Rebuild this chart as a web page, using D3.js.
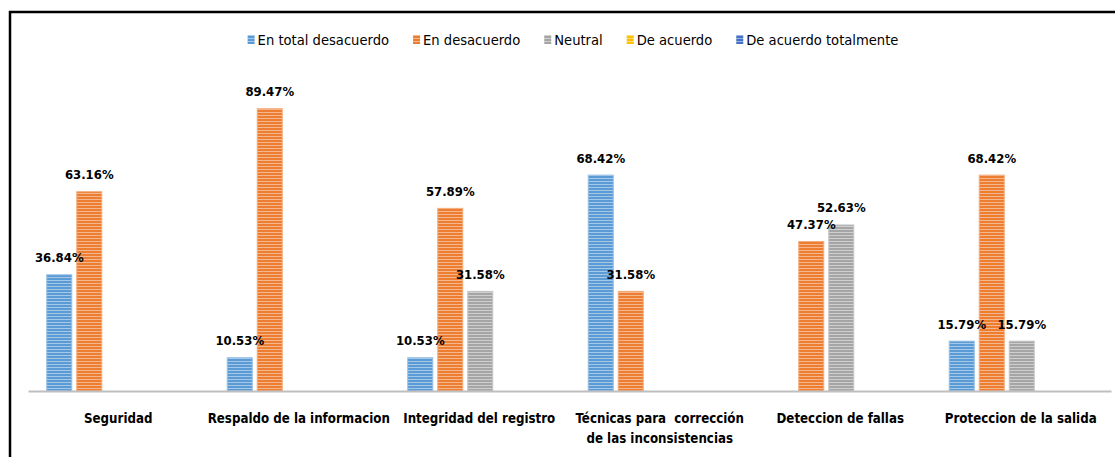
<!DOCTYPE html>
<html><head><meta charset="utf-8">
<script src="https://cdn.jsdelivr.net/npm/d3@7"></script>
<style>
body{margin:0;background:#fff;}
svg{display:block;}
</style></head>
<body>
<svg id="chart" width="1115" height="457"></svg>
<script>
const categories = ["Seguridad", "Respaldo de la informacion", "Integridad del registro", "Técnicas para  corrección\nde las inconsistencias", "Deteccion de fallas", "Proteccion de la salida"];
const seriesNames = ["En total desacuerdo", "En desacuerdo", "Neutral", "De acuerdo", "De acuerdo totalmente"];
const enTotalDesacuerdo = [36.84, 10.53, 10.53, 68.42, 0, 15.79];
const enDesacuerdo = [63.16, 89.47, 57.89, 31.58, 47.37, 68.42];
const neutral = [0, 0, 31.58, 0, 52.63, 15.79];
const deAcuerdo = [0, 0, 0, 0, 0, 0];
const deAcuerdoTotalmente = [0, 0, 0, 0, 0, 0];
const seriesValues = [enTotalDesacuerdo, enDesacuerdo, neutral, deAcuerdo, deAcuerdoTotalmente];
const colors = ["#5B9BD5", "#ED7D31", "#A5A5A5", "#FFC000", "#4472C4"];

const FONT = "'DejaVu Sans Condensed','Liberation Sans Narrow','Arial Narrow',sans-serif";
const svg = d3.select("#chart");
const defs = svg.append("defs");
colors.forEach((c, i) => {
  const p = defs.append("pattern").attr("id", "pat" + i).attr("patternUnits", "userSpaceOnUse")
    .attr("width", 4).attr("height", 3);
  p.append("rect").attr("width", 4).attr("height", 3).attr("fill", c);
  p.append("rect").attr("y", 1).attr("width", 4).attr("height", 1).attr("fill", d3.interpolateRgb(c, "#fff")(0.45));
});

// frame
svg.append("path").attr("d", "M10,457 V12 H1115").attr("fill", "none").attr("stroke", "#000").attr("stroke-width", 2.5);

const x0 = d3.scaleBand().domain(categories).range([28, 1111]).padding(0);
const x1 = d3.scaleBand().domain(seriesNames)
  .range([x0.bandwidth() / 2 - 71.5, x0.bandwidth() / 2 + 73.5]).paddingInner(1 / 6);
const y = d3.scaleLinear().domain([0, 100]).range([391, 75.5]);

const data = [];
categories.forEach((c, ci) => seriesNames.forEach((s, si) => {
  data.push({ c, s, si, v: seriesValues[si][ci] });
}));

const g = svg.append("g");
g.selectAll("rect.bar").data(data.filter(d => d.v > 0)).join("rect").attr("class", "bar")
  .attr("x", d => x0(d.c) + x1(d.s))
  .attr("width", x1.bandwidth())
  .attr("y", d => y(d.v))
  .attr("height", d => y(0) - y(d.v))
  .attr("fill", d => `url(#pat${d.si})`)
  .attr("stroke", d => d3.interpolateRgb(colors[d.si], "#fff")(0.35))
  .attr("stroke-width", 1);

g.selectAll("text.val").data(data.filter(d => d.v > 0)).join("text").attr("class", "val")
  .attr("x", d => x0(d.c) + x1(d.s) + x1.bandwidth() / 2)
  .attr("y", d => y(d.v) - 12.5)
  .attr("text-anchor", "middle")
  .style("font-family", FONT).style("font-weight", "bold").style("font-size", "13px").attr("fill", "#000")
  .text(d => d.v.toFixed(2) + "%");

// axis
const axis = svg.append("g").attr("transform", "translate(0,391)")
  .call(d3.axisBottom(x0).tickSize(0).tickFormat(""));
axis.select(".domain").attr("stroke", "#BFBFBF").attr("stroke-width", 2);

categories.forEach(c => {
  const lines = c.split("\n");
  const t = svg.append("text").attr("x", x0(c) + x0.bandwidth() / 2).attr("y", 423)
    .attr("text-anchor", "middle").style("font-family", FONT).style("font-weight", "bold")
    .style("font-size", "13.2px").attr("fill", "#000").style("white-space", "pre");
  lines.forEach((l, i) => t.append("tspan").attr("x", x0(c) + x0.bandwidth() / 2).attr("dy", i ? 20 : 0).text(l));
});

// legend
const leg = svg.append("g");
const items = seriesNames.map((s, i) => {
  const gi = leg.append("g");
  gi.append("rect").attr("x", 0).attr("y", -5).attr("width", 7).attr("height", 9).attr("fill", `url(#pat${i})`);
  const tx = gi.append("text").attr("x", 10).attr("y", 5).style("font-family", FONT).style("font-size", "14.6px")
    .attr("fill", "#000").text(s);
  return { gi, w: 10 + tx.node().getComputedTextLength() };
});
const gap = 24;
const total = d3.sum(items, d => d.w) + gap * (items.length - 1);
let cx = 573 - total / 2;
items.forEach(it => { it.gi.attr("transform", `translate(${cx},40)`); cx += it.w + gap; });
</script>
</body></html>
